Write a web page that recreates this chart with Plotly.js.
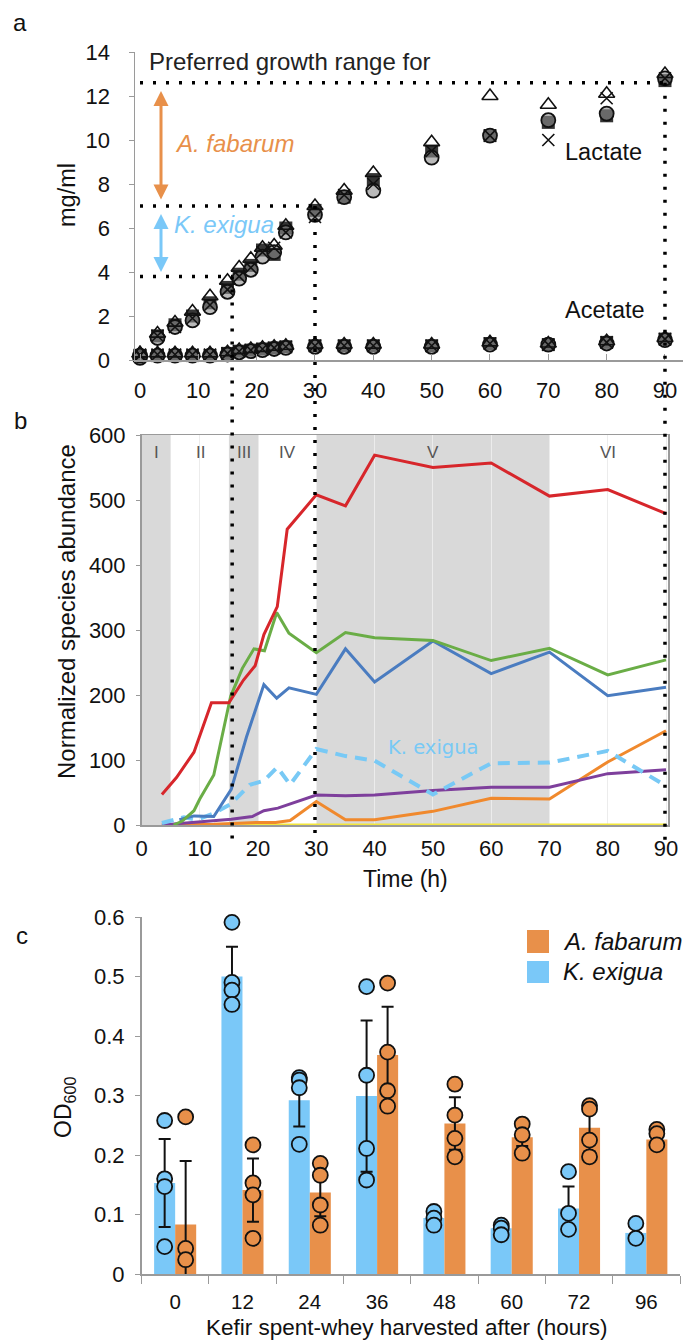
<!DOCTYPE html>
<html>
<head>
<meta charset="utf-8">
<script src="https://cdn.plot.ly/plotly-3.0.1.min.js"></script>
<style>html,body{margin:0;padding:0;background:#fff;}#chart{width:683px;height:1341px;}</style>
</head>
<body>
<div id="chart"></div>
<script>
// ---------------- Panel a data ----------------
const timeA = [0,3,6,9,12,15,17,19,21,23,25,30,35,40,50,60,70,80,90];
const lactateTri  = [0.3,1.2,1.7,2.2,2.9,3.6,4.2,4.6,5.1,5.2,6.1,7.0,7.7,8.5,9.9,12.0,11.6,12.1,13.0];
const lactateCirc = [0.1,1.0,1.5,1.8,2.4,3.1,3.7,4.1,4.7,4.9,5.8,6.6,7.4,7.7,9.2,10.2,10.9,11.2,12.8];
const lactateX    = [0.2,1.1,1.5,1.9,2.5,3.2,3.8,4.2,4.9,5.1,5.8,6.5,7.5,8.0,9.5,10.2,10.0,11.9,12.8];
const lactateSq   = [0.2,1.1,1.6,2.0,2.6,3.3,3.9,4.3,5.0,4.8,6.0,6.8,7.4,8.2,9.5,10.2,10.8,11.1,12.7];
const acetateTri  = [0.3,0.3,0.3,0.3,0.3,0.35,0.45,0.5,0.55,0.6,0.65,0.7,0.7,0.7,0.7,0.8,0.75,0.85,1.0];
const acetateCirc = [0.2,0.2,0.2,0.2,0.2,0.25,0.35,0.4,0.45,0.5,0.55,0.6,0.6,0.6,0.6,0.7,0.7,0.75,0.9];
const acetateX    = [0.25,0.25,0.25,0.25,0.25,0.3,0.4,0.45,0.5,0.55,0.6,0.65,0.65,0.65,0.65,0.75,0.7,0.8,0.95];
const acetateSq   = [0.2,0.2,0.2,0.2,0.2,0.3,0.4,0.45,0.5,0.55,0.6,0.65,0.65,0.65,0.65,0.75,0.7,0.8,0.95];
const growthLevels = {top:12.6, mid:7.0, low:3.8};
const phaseTimes = [15.8, 30, 90];

// ---------------- Panel b data ----------------
const redX    = [3.5,6,9,12,15,17.5,19.5,21,23.3,25,30,35,40,50,60,70,80,90];
const redY    = [47,73,112,188,188,223,245,293,336,455,508,491,569,550,557,506,516,479];
const greenX  = [5.5,7,9,10,12.4,15.3,17.3,19.3,21.1,23.2,25.3,30,35,40,50,60,70,80,90];
const greenY  = [0,6,22,40,77,198,241,271,268,327,295,265,296,288,284,253,272,231,254];
const blueX   = [6.5,9,12.4,15.4,18,21,23.2,25.3,30,35,40,50,60,70,80,90];
const blueY   = [8,14,13,55,135,216,195,211,201,271,220,283,233,266,199,212];
const kexX    = [3.5,7.3,9.5,12.4,15.3,18.6,21,23.3,25.5,30,35,40,50,60,70,80,90];
const kexY    = [3,12,8,18,32,62,68,89,62,117,106,99,47,95,96,114,60];
const purpleX = [3.5,8.6,12.4,15.4,19,21,23.4,25.5,30,35,40,50,60,70,80,90];
const purpleY = [0,4,6,9,13,22,26,32,46,45,46,53,58,58,79,85];
const orangeX = [3.5,12.4,19.8,23,25.5,30,35,40,50,60,70,80,90];
const orangeY = [0,1,4,4,7,36,8,8,21,41,40,97,145];
const yellowX = [3.5,30,50,70,90];
const yellowY = [0,0,0,0,0];
const phaseShade = [[0,5],[15,20],[30,70]];
const phaseLabels = ['I','II','III','IV','V','VI'];
const phaseLabelX = [2.5,10.2,17.6,25,50,80];

// ---------------- Panel c data ----------------
const harvestLabels = ['0','12','24','36','48','60','72','96'];
const kexMean  = [0.153,0.500,0.292,0.299,0.094,0.077,0.110,0.069];
const kexErr   = [0.074,0.050,0.044,0.127,0.010,0.008,0.037,0.010];
const afabMean = [0.083,0.141,0.137,0.368,0.253,0.230,0.246,0.226];
const afabErr  = [0.107,0.053,0.040,0.081,0.044,0.015,0.040,0.010];
const kexReps  = [[0.258,0.160,0.147,0.046],[0.591,0.490,0.477,0.453],[0.330,0.326,0.313,0.218],[0.483,0.334,0.211,0.158],[0.105,0.094,0.082],[0.082,0.077,0.066],[0.172,0.102,0.075],[0.085,0.060]];
const afabReps = [[0.264,0.043,0.024,-0.004],[0.217,0.153,0.133,0.060],[0.186,0.166,0.116,0.082],[0.489,0.373,0.308,0.282],[0.319,0.267,0.228,0.197],[0.252,0.234,0.203],[0.283,0.277,0.225,0.197],[0.243,0.236,0.217]];
const legendNames = ['A. fabarum', 'K. exigua'];

// ---------------- layout helpers ----------------
const W = 683, H = 1341;
const PX = v => v / W;
const PY = v => 1 - v / H;
const FONT = 'Liberation Sans, Arial, Helvetica, sans-serif';
const ORANGE = '#e8904a', SKY = '#7ac8f8';
const AX_GREY = '#9a9a9a';

const aDomY = [PY(360), PY(52)], aRangeY = [0, 14];
const aY = v => aDomY[0] + (v - aRangeY[0]) / (aRangeY[1] - aRangeY[0]) * (aDomY[1] - aDomY[0]);
const bBottom = PY(842);

const traces = [];
function reps(xs, ys, sym, size, color, lw, fill) {
  traces.push({type:'scatter', mode:'markers', x:xs, y:ys, xaxis:'x', yaxis:'y', cliponaxis:false, showlegend:false,
    marker:{symbol:sym, size:size, color: fill || color, line:{color:color, width:lw}}});
}
reps(timeA, lactateSq, 'square', 13, 'rgba(25,25,25,0.88)', 0);
reps(timeA, acetateSq, 'square', 13, 'rgba(25,25,25,0.88)', 0);
reps(timeA, lactateCirc, 'circle', 14, '#111', 1.8, 'rgba(140,140,140,0.6)');
reps(timeA, acetateCirc, 'circle', 14, '#111', 1.8, 'rgba(140,140,140,0.6)');
reps(timeA, lactateX, 'x-thin-open', 12, '#111', 1.6);
reps(timeA, acetateX, 'x-thin-open', 12, '#111', 1.6);
reps(timeA, lactateTri, 'triangle-up-open', 14, '#111', 1.6);
reps(timeA, acetateTri, 'triangle-up-open', 14, '#111', 1.6);

function ln(xs, ys, color, dash, w) {
  traces.push({type:'scatter', mode:'lines', x:xs, y:ys, xaxis:'x2', yaxis:'y2', cliponaxis:false, showlegend:false,
    line:{color:color, width:w || 3, dash: dash || 'solid'}});
}
ln(yellowX, yellowY, '#f2e63a');
ln(orangeX, orangeY, '#f0892d');
ln(purpleX, purpleY, '#7e3f9c');
ln(kexX, kexY, '#78c9f5', '12px,8px', 4);
ln(blueX, blueY, '#4a7cc0');
ln(greenX, greenY, '#6aad46');
ln(redX, redY, '#d7262b');

// panel c bars
traces.push({type:'bar', name:legendNames[1], x:harvestLabels, y:kexMean, xaxis:'x3', yaxis:'y3', showlegend:false,
  offset:-0.3125, width:0.3125, marker:{color:SKY, line:{width:0}}});
traces.push({type:'bar', name:legendNames[0], x:harvestLabels, y:afabMean, xaxis:'x3', yaxis:'y3', showlegend:false,
  offset:0, width:0.3125, marker:{color:ORANGE, line:{width:0}}});
// error bars (drawn on the overlay axis so they may cross below zero)
function errs(means, errArr, shift) {
  traces.push({type:'scatter', mode:'markers', x:means.map((m, i) => i + shift), y:means, xaxis:'x4', yaxis:'y3',
    cliponaxis:false, showlegend:false, marker:{size:1, opacity:0},
    error_y:{type:'data', array:errArr, visible:true, color:'#111', thickness:2, width:6}});
}
errs(kexMean, kexErr, -0.156);
errs(afabMean, afabErr, 0.156);
function pts(repsArr, shift, color) {
  const xs = [], ys = [];
  repsArr.forEach((r, i) => r.forEach(v => { xs.push(i + shift); ys.push(v); }));
  traces.push({type:'scatter', mode:'markers', x:xs, y:ys, xaxis:'x4', yaxis:'y3', cliponaxis:false, showlegend:false,
    marker:{symbol:'circle', size:15, color:color, line:{color:'#111', width:1.8}}});
}
pts(kexReps, -0.156, SKY);
pts(afabReps, 0.156, ORANGE);

// ---------------- shapes ----------------
const shapes = [];
phaseShade.forEach(p => shapes.push({type:'rect', xref:'x2', yref:'y2', x0:p[0], x1:p[1], y0:0, y1:600,
  fillcolor:'#d9d9d9', line:{width:0}, layer:'below'}));
const DOT = {color:'#000', width:3.5, dash:'3px,10px'};
shapes.push({type:'line', xref:'x', yref:'y', x0:0, x1:phaseTimes[2], y0:growthLevels.top, y1:growthLevels.top, line:DOT});
shapes.push({type:'line', xref:'x', yref:'y', x0:0, x1:phaseTimes[1], y0:growthLevels.mid, y1:growthLevels.mid, line:DOT});
shapes.push({type:'line', xref:'x', yref:'y', x0:0, x1:phaseTimes[0], y0:growthLevels.low, y1:growthLevels.low, line:DOT});
shapes.push({type:'line', xref:'x', yref:'paper', x0:phaseTimes[0], x1:phaseTimes[0], y0:aY(growthLevels.low), y1:bBottom, line:DOT});
shapes.push({type:'line', xref:'x', yref:'paper', x0:phaseTimes[1], x1:phaseTimes[1], y0:aY(growthLevels.mid), y1:bBottom, line:DOT});
shapes.push({type:'line', xref:'x', yref:'paper', x0:phaseTimes[2], x1:phaseTimes[2], y0:aY(growthLevels.top), y1:bBottom, line:DOT});
// legend swatches (panel c)
shapes.push({type:'rect', xref:'paper', yref:'paper', x0:PX(527), x1:PX(549), y0:PY(953), y1:PY(930), fillcolor:ORANGE, line:{width:0}});
shapes.push({type:'rect', xref:'paper', yref:'paper', x0:PX(527), x1:PX(549), y0:PY(983), y1:PY(961), fillcolor:SKY, line:{width:0}});

// ---------------- annotations ----------------
const ann = [];
function txt(text, x, y, size, opts) {
  ann.push(Object.assign({text:text, xref:'paper', yref:'paper', x:PX(x), y:PY(y), showarrow:false,
    xanchor:'center', yanchor:'middle', font:{family:FONT, size:size, color:'#111'}}, opts || {}));
}
txt('a', 20, 23, 24);
txt('b', 20, 420, 24);
txt('c', 22, 935, 24);
txt('Preferred growth range for', 147, 62, 24, {xanchor:'left', font:{family:FONT, size:24, color:'#222'}});
txt('<i>A. fabarum</i>', 173, 144, 24, {xanchor:'left', font:{family:FONT, size:24, color:ORANGE}});
txt('<i>K. exigua</i>', 172, 225, 24, {xanchor:'left', font:{family:FONT, size:24, color:SKY}});
txt('Lactate', 563, 152, 23.5, {xanchor:'left'});
txt('Acetate', 563, 310, 23.5, {xanchor:'left'});
txt('mg/ml', 67, 195, 23.5, {textangle:-90});
txt('Normalized species abundance', 66, 612, 24, {textangle:-90});
txt('Time (h)', 405, 879, 23);
txt('OD<sub>600</sub>', 64, 1108, 23, {textangle:-90});
txt('Kefir spent-whey harvested after (hours)', 406, 1327, 22.5);
txt('<i>' + legendNames[0] + '</i>', 561, 942, 24, {xanchor:'left'});
txt('<i>' + legendNames[1] + '</i>', 561, 972, 24, {xanchor:'left'});
phaseLabels.forEach((l, i) => ann.push({text:l, xref:'x2', yref:'paper', x:phaseLabelX[i], y:PY(452), showarrow:false,
  xanchor:'center', yanchor:'middle', font:{family:FONT, size:17, color:'#555'}}));
ann.push({text:'K. exigua', xref:'x2', yref:'paper', x:50, y:PY(748), showarrow:false, xanchor:'center', yanchor:'middle',
  font:{family:'DejaVu Sans, sans-serif', size:19.5, color:'#78c9f5'}});
ann.push({text:'', xref:'x', yref:'y', axref:'x', ayref:'y', x:3.6, y:7.3, ax:3.6, ay:12.3, showarrow:true,
  arrowside:'end+start', arrowhead:2, arrowsize:1, arrowwidth:3, arrowcolor:ORANGE});
ann.push({text:'', xref:'x', yref:'y', axref:'x', ayref:'y', x:3.6, y:4.0, ax:3.6, ay:6.7, showarrow:true,
  arrowside:'end+start', arrowhead:2, arrowsize:1, arrowwidth:3, arrowcolor:SKY});

const tf = s => ({family:FONT, size:s, color:'#111'});
const layout = {
  width:W, height:H, margin:{l:0, r:0, t:0, b:0},
  paper_bgcolor:'#fff', plot_bgcolor:'rgba(0,0,0,0)',
  showlegend:false, barmode:'overlay',
  xaxis:{domain:[PX(135),1], range:[-0.857,93.09], tickvals:[0,10,20,30,40,50,60,70,80,90], ticks:'inside', ticklen:6,
    tickcolor:AX_GREY, showline:true, linecolor:AX_GREY, linewidth:1.5, showgrid:false, zeroline:false,
    tickfont:tf(22), ticklabelstandoff:10, anchor:'y'},
  yaxis:{domain:aDomY, range:aRangeY, dtick:2, ticks:'outside', ticklen:5, tickcolor:AX_GREY, showline:true,
    linecolor:AX_GREY, linewidth:1.5, showgrid:false, zeroline:false, tickfont:tf(22), ticklabelstandoff:14, anchor:'x'},
  xaxis2:{domain:[PX(141.5),PX(668)], range:[0,90.34], tickvals:[0,10,20,30,40,50,60,70,80,90], ticks:'',
    showline:true, mirror:true, linecolor:AX_GREY, linewidth:1.5, showgrid:true, gridcolor:'#ececec', gridwidth:1,
    zeroline:false, tickfont:tf(22), ticklabelstandoff:3, anchor:'y2'},
  yaxis2:{domain:[PY(825),PY(435)], range:[0,600], dtick:100, ticks:'outside', ticklen:4, tickcolor:AX_GREY,
    showline:true, mirror:true, linecolor:AX_GREY, linewidth:1.5, showgrid:false, zeroline:false, tickfont:tf(22),
    ticklabelstandoff:6, anchor:'x2'},
  xaxis3:{domain:[PX(141.5),PX(680)], type:'category', range:[-0.5,7.5], tickson:'boundaries', ticks:'outside',
    ticklen:8, tickcolor:AX_GREY, showline:true, linecolor:AX_GREY, linewidth:1.5, showgrid:false, zeroline:false,
    tickfont:tf(20.5), ticklabelstandoff:9, anchor:'y3'},
  xaxis4:{domain:[PX(141.5),PX(680)], range:[-0.5,7.5], overlaying:'x3', anchor:'y3', visible:false},
  yaxis3:{domain:[PY(1274),PY(917)], range:[0,0.6], dtick:0.1, ticks:'outside', ticklen:5, tickcolor:AX_GREY,
    showline:true, linecolor:AX_GREY, linewidth:1.5, showgrid:false, zeroline:false, tickfont:tf(22),
    ticklabelstandoff:6, anchor:'x3'},
  shapes:shapes, annotations:ann
};
Plotly.newPlot('chart', traces, layout, {displayModeBar:false, staticPlot:true});
</script>
</body>
</html>
